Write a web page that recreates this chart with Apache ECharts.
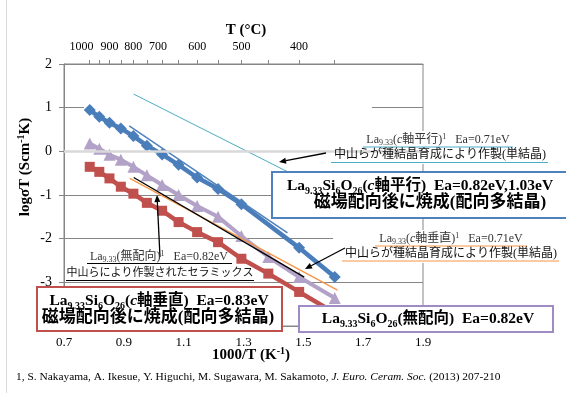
<!DOCTYPE html>
<html><head><meta charset="utf-8">
<script src="https://cdn.jsdelivr.net/npm/echarts@6/dist/echarts.min.js"></script>
<style>html,body{margin:0;padding:0;background:#fff}#c{width:566px;height:393px}</style>
</head><body><div id="c"></div>
<script>
const SERIF = "'Liberation Serif','Noto Sans CJK JP',serif";

// ---- data (x = 1000/T [K^-1], y = log(sigma T)) ----
const xBlue = [0.786,0.818,0.852,0.890,0.932,0.977,1.028,1.083,1.145,1.215,1.293,1.486,1.605];
const yBlue = [0.945,0.79,0.655,0.525,0.35,0.13,-0.07,-0.31,-0.60,-0.86,-1.21,-2.21,-2.88];
const xPurple = [0.786,0.818,0.852,0.890,0.932,0.977,1.028,1.083,1.145,1.215,1.293,1.383,1.486,1.605];
const yPurple = [0.18,0.06,-0.08,-0.19,-0.355,-0.55,-0.77,-1.0,-1.25,-1.50,-1.94,-2.42,-2.88,-3.36];
const xRed = [0.786,0.818,0.852,0.890,0.932,0.977,1.028,1.083,1.145,1.215,1.293,1.383,1.486,1.605];
const yRed = [-0.355,-0.47,-0.62,-0.81,-0.97,-1.18,-1.36,-1.62,-1.85,-2.08,-2.46,-2.80,-3.22,-3.70];
// literature reference lines (end points)
const xRefCyan = [0.933,1.448];   const yRefCyan = [1.31,-0.47];
const xRefBlue = [0.918,1.447];   const yRefBlue = [0.585,-1.87];
const xRefBlack = [0.933,1.503];  const yRefBlack = [-0.60,-2.88];
const xRefOrange = [0.920,1.614]; const yRefOrange = [-0.62,-3.18];
// top axis (temperature, deg C)
const topTickTempsC = [1000,950,900,850,800,750,700,650,600,550,500,450,400,350];
const topLabelTempsC = [1000,900,800,700,600,500,400];

const toInvT = t => 1000/(t+273.15);
const pairs = (xs,ys) => xs.map((x,i)=>[x,ys[i]]);

const chart = echarts.init(document.getElementById('c'), null, {renderer:'canvas'});

function arrow(x1,y1,x2,y2,color){
  const a=Math.atan2(y2-y1,x2-x1), L=7, W=3;
  const bx=x2-L*Math.cos(a), by=y2-L*Math.sin(a);
  return [
    {type:'line', z:20, shape:{x1,y1,x2:bx,y2:by}, style:{stroke:color,lineWidth:1.3}},
    {type:'polygon', z:20, shape:{points:[[x2,y2],[bx+W*Math.sin(a),by-W*Math.cos(a)],[bx-W*Math.sin(a),by+W*Math.cos(a)]]}, style:{fill:color}}
  ];
}
function uline(x1,x2,y,color){
  return {type:'line', z:20, shape:{x1,y1:y,x2,y2:y}, style:{stroke:color,lineWidth:1}};
}
function richBig(sz){
  return {
    b:{fontFamily:SERIF,fontWeight:'bold',fontSize:sz,lineHeight:20,fill:'#000'},
    s:{fontFamily:SERIF,fontWeight:'bold',fontSize:10,lineHeight:10,verticalAlign:'bottom',fill:'#000'},
    i:{fontFamily:SERIF,fontWeight:'bold',fontStyle:'italic',fontSize:sz,lineHeight:20,fill:'#000'}
  };
}
function richSmall(col){
  return {
    n:{fontFamily:SERIF,fontSize:12,lineHeight:14,fill:col},
    s:{fontFamily:SERIF,fontSize:8,lineHeight:8,verticalAlign:'bottom',fill:col},
    p:{fontFamily:SERIF,fontSize:8,lineHeight:8,verticalAlign:'top',fill:col},
    i:{fontFamily:SERIF,fontStyle:'italic',fontSize:12,lineHeight:14,fill:col}
  };
}
function txt(x,y,text,rich,align,extra){
  return Object.assign({type:'text', z:21, x, y, style:{text, rich, align:align||'center', verticalAlign:'middle'}}, extra||{});
}

const axisGray = '#868686';
const graphics = [
  {type:'line', z:0, shape:{x1:6.5,y1:0,x2:6.5,y2:393}, style:{stroke:'#d9d9d9',lineWidth:1}},
  // white areas that hide gridlines in the original
  {type:'rect', z:1.5, shape:{x:84,y:103,width:288,height:8}, style:{fill:'#fff'}},
  {type:'rect', z:1.5, shape:{x:82,y:147,width:91,height:8}, style:{fill:'#fff'}},
  {type:'rect', z:5, shape:{x:323,y:131,width:243,height:33}, style:{fill:'#fff'}},
  {type:'rect', z:5, shape:{x:333,y:230,width:233,height:33}, style:{fill:'#fff'}},
  // boxes
  {type:'rect', z:15, shape:{x:272,y:172,width:300,height:46}, style:{fill:'#fff',stroke:'#4f81bd',lineWidth:2}},
  {type:'rect', z:15, shape:{x:37,y:287,width:245,height:44}, style:{fill:'#fff',stroke:'#c0504d',lineWidth:2}},
  {type:'rect', z:15, shape:{x:299,y:306,width:254,height:26}, style:{fill:'#fff',stroke:'#a08cc4',lineWidth:2}},
  // titles
  txt(246,30,'{b|T (°C)}',{b:{fontFamily:SERIF,fontWeight:'bold',fontSize:15,fill:'#000'}}),
  txt(251,355,'{b|1000/T (K}{p|-1}{b|)}',{b:{fontFamily:SERIF,fontWeight:'bold',fontSize:15,lineHeight:18,fill:'#000'},p:{fontFamily:SERIF,fontWeight:'bold',fontSize:10,lineHeight:10,verticalAlign:'top',fill:'#000'}}),
  txt(25,167,'{b|logσT (Scm}{p|-1}{b|K)}',{b:{fontFamily:SERIF,fontWeight:'bold',fontSize:15,lineHeight:18,fill:'#000'},p:{fontFamily:SERIF,fontWeight:'bold',fontSize:10,lineHeight:10,verticalAlign:'top',fill:'#000'}},'center',{rotation:Math.PI/2}),
  // blue box
  txt(420,186,'{b|La}{s|9.33}{b|Si}{s|6}{b|O}{s|26}{b|(}{i|c}{b|軸平行)  Ea=0.82eV,1.03eV}',richBig(15.5)),
  txt(430,203,'{b|磁場配向後に焼成(配向多結晶)}',richBig(17)),
  // red box
  txt(159,301,'{b|La}{s|9.33}{b|Si}{s|6}{b|O}{s|26}{b|(}{i|c}{b|軸垂直)  Ea=0.83eV}',richBig(15.5)),
  txt(158,318,'{b|磁場配向後に焼成(配向多結晶)}',richBig(17)),
  // purple box
  txt(428,319,'{b|La}{s|9.33}{b|Si}{s|6}{b|O}{s|26}{b|(無配向)  Ea=0.82eV}',richBig(15.5)),
  // annotation A (cyan)
  txt(438,140,'{n|La}{s|9.33}{n|(}{i|c}{n|軸平行)}{p|1}{n|   Ea=0.71eV}',richSmall('#333')),
  txt(440,155,'{n|中山らが種結晶育成により作製(単結晶)}',richSmall('#111')),
  uline(363,513,147,'#4bacc6'), uline(331,548,162.5,'#4bacc6'),
  // annotation F (orange)
  txt(451,239,'{n|La}{s|9.33}{n|(}{i|c}{n|軸垂直)}{p|1}{n|   Ea=0.71eV}',richSmall('#333')),
  txt(451,253.5,'{n|中山らが種結晶育成により作製(単結晶)}',richSmall('#111')),
  uline(375,527,246,'#f79646'), uline(342,559,261,'#f79646'),
  // annotation E (black)
  txt(159,256.5,'{n|La}{s|9.33}{n|(無配向)}{p|1}{n|   Ea=0.82eV}',richSmall('#333')),
  txt(160,273,'{n|中山らにより作製されたセラミックス}',{n:{fontFamily:SERIF,fontSize:11,lineHeight:14,fill:'#111'}}),
  uline(87,232,263.5,'#000'), uline(66,254,280.5,'#000'),
  // footnote
  txt(16,377,'{n|1, S. Nakayama, A. Ikesue, Y. Higuchi, M. Sugawara, M. Sakamoto, }{i|J. Euro. Ceram. Soc.}{n| (2013) 207-210}',
      {n:{fontFamily:SERIF,fontSize:11.4,fill:'#000'},i:{fontFamily:SERIF,fontStyle:'italic',fontSize:11.4,fill:'#000'}},'left'),
  ...arrow(326,153,279,162,'#000'),
  ...arrow(160,257,157,195,'#000'),
  ...arrow(345,248,305,269,'#000')
];

const option = {
  animation:false,
  backgroundColor:'#fff',
  grid:{left:64,right:143,top:64,bottom:67,show:true,borderColor:axisGray,borderWidth:1,backgroundColor:'transparent'},
  xAxis:[
    {type:'value',position:'bottom',min:0.7,max:1.9,interval:0.2,
     axisLine:{show:true,onZero:false,lineStyle:{color:axisGray}},
     axisTick:{show:true,length:5,lineStyle:{color:axisGray}},
     axisLabel:{fontFamily:SERIF,fontSize:13,color:'#000',margin:10,formatter:v=>v.toFixed(1)},
     splitLine:{show:false}},
    {type:'value',position:'top',min:0.7,max:1.9,
     axisLine:{show:true,onZero:false,lineStyle:{color:axisGray}},
     axisTick:{show:true,length:4,customValues:topTickTempsC.map(toInvT),lineStyle:{color:axisGray}},
     axisLabel:{fontFamily:SERIF,fontSize:12,color:'#000',margin:11,customValues:topLabelTempsC.map(toInvT),
       formatter:v=>{const t=Math.round(1000/v-273.15); if(t===1000) return '{l|1000}'; if(t===700) return '{m|700}'; return '{n|'+t+'}';},
       rich:{l:{fontFamily:SERIF,fontSize:12,padding:[0,16,0,0]},m:{fontFamily:SERIF,fontSize:12,padding:[0,8,0,0]},n:{fontFamily:SERIF,fontSize:12}}},
     splitLine:{show:false}}
  ],
  yAxis:[{type:'value',min:-4,max:2,interval:1,
     axisLine:{show:true,onZero:false,lineStyle:{color:axisGray}},
     axisTick:{show:true,length:5,lineStyle:{color:axisGray}},
     axisLabel:{fontFamily:SERIF,fontSize:14,color:'#000',margin:12},
     splitLine:{show:true,lineStyle:{color:axisGray,width:1}}}],
  series:[
    {type:'line',z:1,data:[],silent:true,
     markLine:{silent:true,symbol:'none',label:{show:false},lineStyle:{color:'#d9d9d9',width:2.5,type:'solid'},data:[{yAxis:0}]}},
    {type:'line',z:3,data:pairs(xRefCyan,yRefCyan),symbol:'none',lineStyle:{color:'#4bacc6',width:1}},
    {type:'line',z:3,data:pairs(xPurple,yPurple),symbol:'triangle',symbolSize:12,
     itemStyle:{color:'#b3a2c7'},lineStyle:{color:'#b3a2c7',width:4}},
    {type:'line',z:3,data:pairs(xRed,yRed),symbol:'rect',symbolSize:10,
     itemStyle:{color:'#c0504d'},lineStyle:{color:'#c0504d',width:4.5}},
    {type:'line',z:3,data:pairs(xBlue,yBlue),symbol:'diamond',symbolSize:12,
     itemStyle:{color:'#4a7ebb'},lineStyle:{color:'#4a7ebb',width:4.5}},
    {type:'line',z:4,data:pairs(xRefBlue,yRefBlue),symbol:'none',lineStyle:{color:'#4f81bd',width:1.5}},
    {type:'line',z:4,data:pairs(xRefOrange,yRefOrange),symbol:'none',lineStyle:{color:'#f79646',width:1.3}},
    {type:'line',z:4,data:pairs(xRefBlack,yRefBlack),symbol:'none',lineStyle:{color:'#000',width:1.3}}
  ],
  graphic:{elements:graphics}
};
chart.setOption(option);
</script>
</body></html>
